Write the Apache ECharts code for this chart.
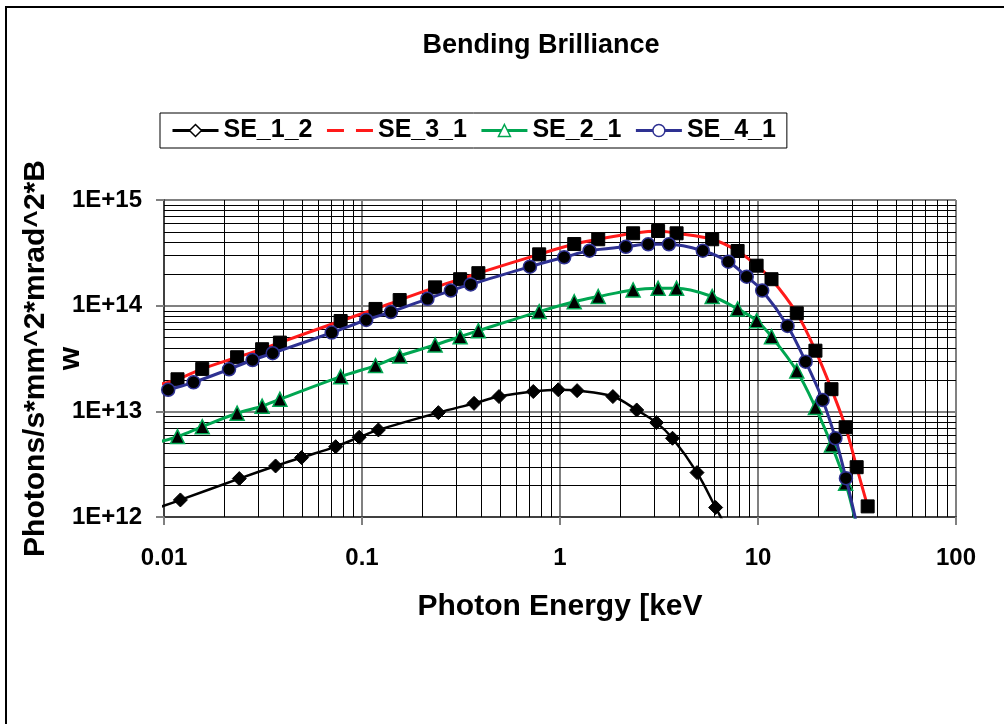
<!DOCTYPE html>
<html>
<head>
<meta charset="utf-8">
<script src="https://cdn.jsdelivr.net/npm/echarts@6/dist/echarts.min.js"></script>
<style>
  html, body { margin: 0; padding: 0; background: #fff; }
  #chart { width: 1004px; height: 724px; }
</style>
</head>
<body>
<div id="chart"></div>
<script>
// Bending-magnet brilliance vs photon energy for four source settings.
const FONT = '"Liberation Sans", Arial, sans-serif';

const xTickLabels = ['0.01', '0.1', '1', '10', '100'];
const yTickLabels = ['1E+12', '1E+13', '1E+14', '1E+15'];
const seriesNames = ['SE_1_2', 'SE_3_1', 'SE_2_1', 'SE_4_1'];

// SE_1_2 (keV, photons/s/mm^2/mrad^2/BW)
const se12Energy = [0.0121, 0.024, 0.0366, 0.0495, 0.0736, 0.0968, 0.121, 0.243, 0.368, 0.492,
                    0.733, 0.98, 1.22, 1.85, 2.44, 3.07, 3.7, 4.92, 6.11];
const se12Brill  = [1.45e12, 2.31e12, 3.04e12, 3.65e12, 4.63e12, 5.69e12, 6.67e12, 9.72e12, 1.19e13, 1.38e13,
                    1.54e13, 1.6e13, 1.57e13, 1.38e13, 1.03e13, 7.82e12, 5.56e12, 2.63e12, 1.23e12];
const se12Lead = [0.0093, 1.22e12];
const se12Tail = [7.0, 7.6e11];

// SE_3_1 and SE_2_1 share one energy grid
const se31Energy = [0.0117, 0.0156, 0.0234, 0.0313, 0.0385, 0.078, 0.117, 0.155, 0.234, 0.313,
                    0.387, 0.785, 1.18, 1.56, 2.34, 3.13, 3.88, 5.87, 7.89, 9.84,
                    11.7, 15.7, 19.5, 23.5, 27.7, 31.5, 35.8];
const se31Brill  = [2.01e13, 2.52e13, 3.25e13, 3.87e13, 4.47e13, 7.16e13, 9.31e13, 1.13e14, 1.49e14, 1.78e14,
                    2.03e14, 3.06e14, 3.83e14, 4.25e14, 4.84e14, 5.09e14, 4.84e14, 4.25e14, 3.29e14, 2.39e14,
                    1.78e14, 8.47e13, 3.75e13, 1.62e13, 7.07e12, 2.96e12, 1.26e12];
const se31Lead = [0.0093, 1.78e13];

const se21Energy = [0.0117, 0.0156, 0.0234, 0.0313, 0.0385, 0.078, 0.117, 0.155, 0.234, 0.313,
                    0.387, 0.785, 1.18, 1.56, 2.34, 3.13, 3.88, 5.87, 7.89, 9.84,
                    11.7, 15.7, 19.5, 23.5, 27.7];
const se21Brill  = [5.77e12, 7.16e12, 9.6e12, 1.12e13, 1.3e13, 2.13e13, 2.71e13, 3.34e13, 4.25e13, 5.09e13,
                    5.8e13, 8.79e13, 1.09e14, 1.22e14, 1.41e14, 1.46e14, 1.46e14, 1.22e14, 9.31e13, 7.21e13,
                    5.09e13, 2.41e13, 1.09e13, 4.81e12, 2.09e12];
const se21Lead = [0.0093, 5.1e12];
const se21Tail = [31.5, 8.1e11];

// SE_4_1
const se41Energy = [0.0105, 0.0141, 0.0213, 0.028, 0.0354, 0.0703, 0.105, 0.14, 0.214, 0.281,
                    0.354, 0.705, 1.05, 1.41, 2.15, 2.79, 3.55, 5.26, 7.08, 8.77,
                    10.5, 14.1, 17.4, 21.2, 24.6, 27.8];
const se41Brill  = [1.6e13, 1.88e13, 2.5e13, 3.06e13, 3.55e13, 5.56e13, 7.32e13, 8.71e13, 1.16e14, 1.39e14,
                    1.59e14, 2.34e14, 2.87e14, 3.31e14, 3.61e14, 3.81e14, 3.81e14, 3.31e14, 2.61e14, 1.88e14,
                    1.39e14, 6.43e13, 2.95e13, 1.28e13, 5.56e12, 2.33e12];
const se41Lead = [0.0093, 1.5e13];
const se41Tail = [32, 7.6e11];

// Minor grid positions: 2..9 within each decade of both axes
const xMinorGrid = [];
for (let d = -2; d < 2; d++) for (let k = 2; k <= 9; k++) xMinorGrid.push([k * Math.pow(10, d), 1e13]);
const yMinorGrid = [];
for (let d = 12; d < 15; d++) for (let k = 2; k <= 9; k++) yMinorGrid.push([1, k * Math.pow(10, d)]);

function buildData(xs, ys, lead, tail) {
  const out = [];
  if (lead) out.push({ value: lead, symbol: 'none' });
  xs.forEach((x, i) => out.push([x, ys[i]]));
  if (tail) out.push({ value: tail, symbol: 'none' });
  return out;
}

const chart = echarts.init(document.getElementById('chart'), null, { renderer: 'canvas' });

const lineColors = { SE_1_2: '#000000', SE_3_1: '#ff1a1a', SE_2_1: '#00a651', SE_4_1: '#2e3192' };

function gridLine(vertical) {
  return function (params, api) {
    const cs = params.coordSys;
    if (vertical) {
      const x = Math.round(api.coord([api.value(0), 1e13])[0]) + 0.5;
      return { type: 'line', shape: { x1: x, y1: cs.y, x2: x, y2: cs.y + cs.height },
               style: { stroke: '#000', lineWidth: 1 } };
    }
    const y = Math.round(api.coord([1, api.value(1)])[1]) + 0.5;
    return { type: 'line', shape: { x1: cs.x, y1: y, x2: cs.x + cs.width, y2: y },
             style: { stroke: '#000', lineWidth: 1 } };
  };
}

const labelFont = { fontFamily: FONT, fontWeight: 'bold', fontSize: 24, color: '#000' };

chart.setOption({
  animation: false,
  backgroundColor: '#fff',
  graphic: [
    { type: 'rect', z: -10, shape: { x: 6, y: 7, width: 1010, height: 730 },
      style: { fill: 'none', stroke: '#000', lineWidth: 2 } },
    { type: 'text', x: 541, y: 46,
      style: { text: 'Bending Brilliance', fontFamily: FONT, fontWeight: 'bold', fontSize: 27,
               fill: '#000', align: 'center', verticalAlign: 'middle' } }
  ],
  legend: {
    left: 160, top: 113,
    padding: [5, 11, 5, 11],
    itemGap: 13, itemWidth: 46, itemHeight: 15,
    borderColor: '#000', borderWidth: 1, backgroundColor: '#fff',
    selectedMode: false,
    textStyle: { fontFamily: FONT, fontWeight: 'bold', fontSize: 25, color: '#000', lineHeight: 25 },
    data: [
      { name: 'SE_1_2', itemStyle: { color: '#fff', borderColor: '#000', borderWidth: 1.5 },
        lineStyle: { color: '#000', width: 3 } },
      { name: 'SE_3_1', itemStyle: { color: 'rgba(0,0,0,0)', borderColor: 'rgba(0,0,0,0)', borderWidth: 0 },
        lineStyle: { color: lineColors.SE_3_1, width: 3, type: [17, 12] } },
      { name: 'SE_2_1', itemStyle: { color: '#fff', borderColor: lineColors.SE_2_1, borderWidth: 1.5 },
        lineStyle: { color: lineColors.SE_2_1, width: 3 } },
      { name: 'SE_4_1', itemStyle: { color: '#fff', borderColor: lineColors.SE_4_1, borderWidth: 1.5 },
        lineStyle: { color: lineColors.SE_4_1, width: 3 } }
    ]
  },
  grid: { left: 164, top: 200, width: 792, height: 317, containLabel: false, outerBoundsMode: 'none' },
  xAxis: {
    type: 'log', logBase: 10, min: 0.01, max: 100,
    name: 'Photon Energy [keV', nameLocation: 'middle', nameGap: 75, nameMoveOverlap: false,
    nameTextStyle: { fontFamily: FONT, fontWeight: 'bold', fontSize: 30, color: '#000', lineHeight: 30 },
    axisLine: { show: true, lineStyle: { color: '#404040', width: 2 } },
    axisTick: { show: true, length: 8, lineStyle: { color: '#808080', width: 2 } },
    axisLabel: Object.assign({ margin: 29, showMinLabel: true, showMaxLabel: true,
      formatter: v => xTickLabels[Math.round(Math.log10(v)) + 2] }, labelFont),
    splitLine: { show: true, lineStyle: { color: '#808080', width: 2 } }
  },
  yAxis: {
    type: 'log', logBase: 10, min: 1e12, max: 1e15,
    name: 'Photons/s*mm^2*mrad^2*B\nw', nameLocation: 'middle', nameRotate: 90, nameGap: 76,
    nameMoveOverlap: false,
    nameTextStyle: { fontFamily: FONT, fontWeight: 'bold', fontSize: 30, color: '#000', lineHeight: 35, align: 'center' },
    axisLine: { show: true, lineStyle: { color: '#404040', width: 2 } },
    axisTick: { show: true, length: 8, lineStyle: { color: '#808080', width: 2 } },
    axisLabel: Object.assign({ margin: 22, showMinLabel: true, showMaxLabel: true,
      formatter: v => yTickLabels[Math.round(Math.log10(v)) - 12] }, labelFont),
    splitLine: { show: true, lineStyle: { color: '#808080', width: 2 } }
  },
  series: [
    { name: 'minor-x', type: 'custom', silent: true, z: 1, data: xMinorGrid,
      encode: { x: 0, y: 1 }, renderItem: gridLine(true) },
    { name: 'minor-y', type: 'custom', silent: true, z: 1, data: yMinorGrid,
      encode: { x: 0, y: 1 }, renderItem: gridLine(false) },
    { name: 'SE_1_2', type: 'line', smooth: 0.35, z: 3,
      data: buildData(se12Energy, se12Brill, se12Lead, se12Tail),
      symbol: 'diamond', symbolSize: 14,
      lineStyle: { color: lineColors.SE_1_2, width: 2.5 },
      itemStyle: { color: '#000', borderColor: '#000', borderWidth: 1 },
      emphasis: { disabled: true } },
    { name: 'SE_3_1', type: 'line', smooth: 0.35, z: 4,
      data: buildData(se31Energy, se31Brill, se31Lead, null),
      symbol: 'rect', symbolSize: 13,
      lineStyle: { color: lineColors.SE_3_1, width: 3 },
      itemStyle: { color: '#000', borderColor: '#000', borderWidth: 1 },
      emphasis: { disabled: true } },
    { name: 'SE_2_1', type: 'line', smooth: 0.35, z: 5,
      data: buildData(se21Energy, se21Brill, se21Lead, se21Tail),
      symbol: 'triangle', symbolSize: 14,
      lineStyle: { color: lineColors.SE_2_1, width: 3 },
      itemStyle: { color: '#000', borderColor: lineColors.SE_2_1, borderWidth: 1.5 },
      emphasis: { disabled: true } },
    { name: 'SE_4_1', type: 'line', smooth: 0.35, z: 6,
      data: buildData(se41Energy, se41Brill, se41Lead, se41Tail),
      symbol: 'circle', symbolSize: 13,
      lineStyle: { color: lineColors.SE_4_1, width: 3 },
      itemStyle: { color: '#000', borderColor: lineColors.SE_4_1, borderWidth: 1.5 },
      emphasis: { disabled: true } }
  ]
});
</script>
</body>
</html>
